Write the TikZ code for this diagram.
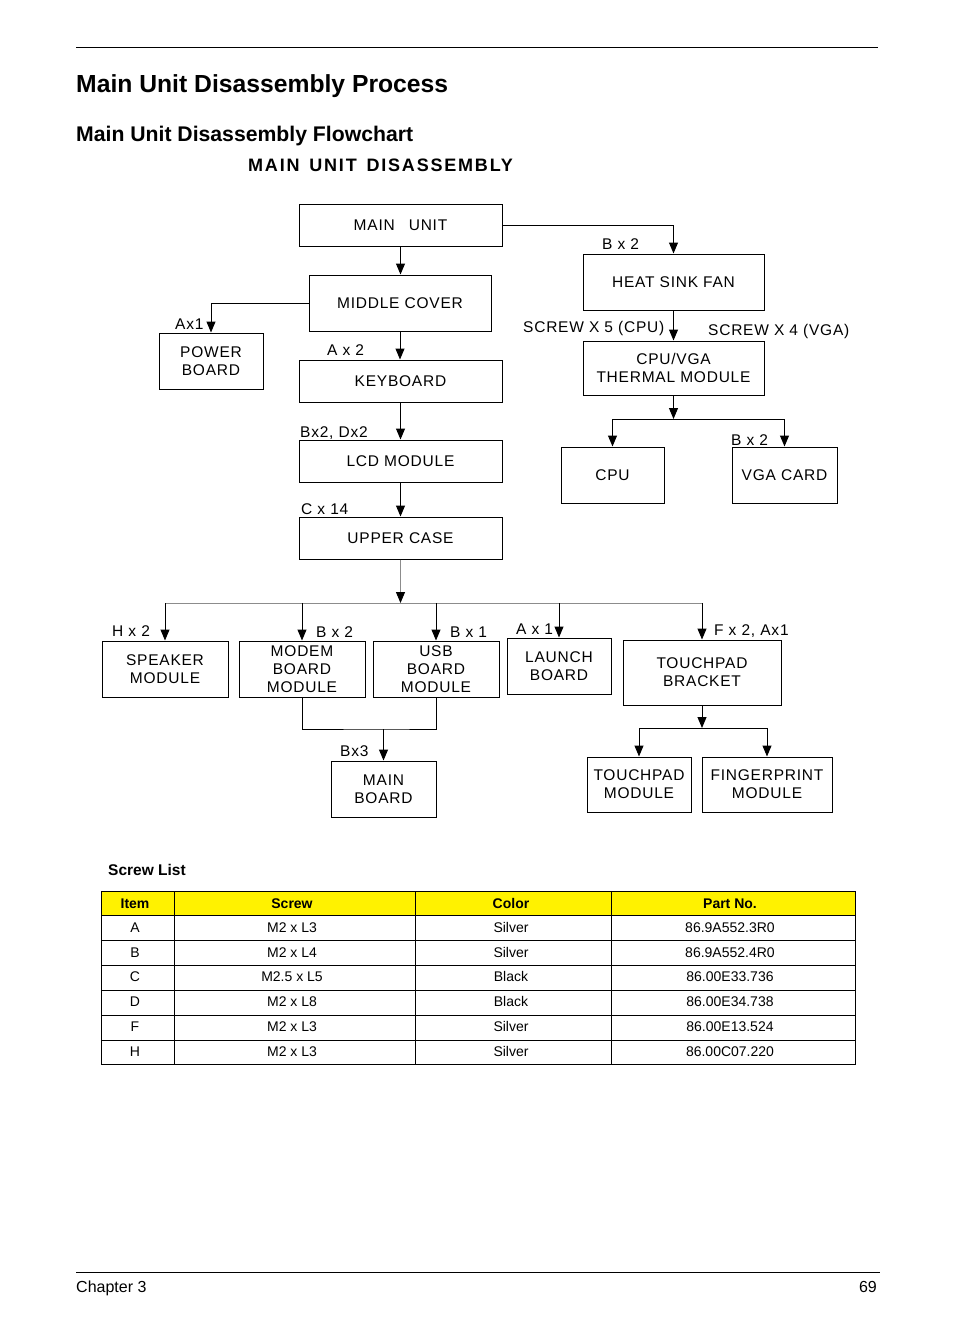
\documentclass[tikz,border=0pt]{standalone}
\usepackage{fontspec}
\setmainfont{Liberation Sans}
\newfontfamily\flow[LetterSpace=5]{Liberation Sans}
\newfontfamily\headsp[LetterSpace=10]{Liberation Sans}
\usetikzlibrary{arrows.meta}
\tikzset{
  box/.style={draw, line width=1pt, inner sep=0pt, align=center,
    font=\flow\fontsize{15.5}{18}\selectfont},
  lbl/.style={anchor=base west, inner sep=0pt, font=\flow\fontsize{15.5}{18}\selectfont},
  conn/.style={line width=1pt},
  arr/.style={conn, -{Triangle[length=11pt,width=9pt]}},
  busline/.style={line width=1pt, draw=black!45},
  cell/.style={inner sep=0pt, text height=10pt, text depth=3pt, font=\fontsize{14}{16}\selectfont},
  hcell/.style={cell, font=\bfseries\fontsize{14}{16}\selectfont},
  rule/.style={line width=0.9pt},
}
\begin{document}
\begin{tikzpicture}[x=1pt,y=-1pt]
\useasboundingbox (0,0) rectangle (954,1336);
% header
\draw[rule] (76,47) -- (878,47);
\node[anchor=base west, inner sep=0pt, font=\bfseries\fontsize{24.7}{28}\selectfont] (title) at (76,92) {Main Unit Disassembly Process};
\node[anchor=base west, inner sep=0pt, font=\bfseries\fontsize{21.2}{24}\selectfont] (subtitle) at (76,141) {Main Unit Disassembly Flowchart};
\node[anchor=base west, inner sep=0pt, font=\headsp\bfseries\fontsize{18}{20}\selectfont] (fctitle) at (248,171) {MAIN\hspace{3pt} UNIT\hspace{3pt} DISASSEMBLY};

% boxes
\node[box, minimum width=203pt, minimum height=42pt] (mainunit) at (400.5,225) {MAIN\hspace{14pt}UNIT};
\node[box, minimum width=182pt, minimum height=56pt] (middle) at (400,303) {MIDDLE COVER};
\node[box, minimum width=104pt, minimum height=56pt] (power) at (211,361) {POWER\\BOARD};
\node[box, minimum width=203pt, minimum height=42pt] (keyboard) at (400.5,381) {KEYBOARD};
\node[box, minimum width=203pt, minimum height=42pt] (lcd) at (400.5,461) {LCD MODULE};
\node[box, minimum width=203pt, minimum height=42pt] (upper) at (400.5,538) {UPPER CASE};
\node[box, minimum width=181pt, minimum height=56pt] (heatsink) at (673.5,282) {HEAT SINK FAN};
\node[box, minimum width=181pt, minimum height=54pt] (thermal) at (673.5,368) {CPU/VGA\\THERMAL MODULE};
\node[box, minimum width=103pt, minimum height=56pt] (cpu) at (612.5,475) {CPU};
\node[box, minimum width=105pt, minimum height=56pt] (vga) at (784.5,475) {VGA CARD};
\node[box, minimum width=126pt, minimum height=56pt] (speaker) at (165,669) {SPEAKER\\MODULE};
\node[box, minimum width=126pt, minimum height=56pt] (modem) at (302,669) {MODEM\\BOARD\\MODULE};
\node[box, minimum width=126pt, minimum height=56pt] (usb) at (436,669) {USB\\BOARD\\MODULE};
\node[box, minimum width=104pt, minimum height=56pt] (launch) at (559,666) {LAUNCH\\BOARD};
\node[box, minimum width=158pt, minimum height=65pt] (tpbracket) at (702,672.5) {TOUCHPAD\\BRACKET};
\node[box, minimum width=105pt, minimum height=56pt] (mainboard) at (383.5,789) {MAIN\\BOARD};
\node[box, minimum width=104pt, minimum height=55pt] (tpmodule) at (639,784.5) {TOUCHPAD\\MODULE};
\node[box, minimum width=130pt, minimum height=55pt] (finger) at (767,784.5) {FINGERPRINT\\MODULE};

% junction coordinates
\coordinate (bus) at (400.5,603);
\coordinate (busL) at (165,603);
\coordinate (busR) at (702,603);
\coordinate (join) at (383.5,729);
\coordinate (tsplit) at (673.5,419);
\coordinate (bsplit) at (702,728);

% connectors
\draw[arr] (mainunit.south) -- (mainunit.south |- middle.north);
\draw[arr] (mainunit.east) -| (heatsink.north);
\draw[arr] (middle.west) -| (power.north);
\draw[arr] (middle.south) -- (middle.south |- keyboard.north);
\draw[arr] (keyboard.south) -- (lcd.north);
\draw[arr] (lcd.south) -- (upper.north);
\draw[busline, -{Triangle[length=11pt,width=9pt,color=black]}] (upper.south) -- (bus);
\draw[busline] (busL) -- (busR);
\draw[arr] (speaker.north |- bus) -- (speaker.north);
\draw[arr] (modem.north |- bus) -- (modem.north);
\draw[arr] (usb.north |- bus) -- (usb.north);
\draw[arr] (launch.north |- bus) -- (launch.north);
\draw[arr] (tpbracket.north |- bus) -- (tpbracket.north);
\draw[conn] (modem.south) |- (join) -| (usb.south);
\draw[arr] (join) -- (mainboard.north);
\draw[arr] (heatsink.south) -- (thermal.north);
\draw[arr] (thermal.south) -- (tsplit);
\draw[arr] (tsplit) -| (cpu.north);
\draw[arr] (tsplit) -| (vga.north);
\draw[arr] (tpbracket.south) -- (bsplit);
\draw[arr] (bsplit) -| (tpmodule.north);
\draw[arr] (bsplit) -| (finger.north);

% labels
\node[lbl] (l1) at (602,249) {B x 2};
\node[lbl] (l2) at (175,329) {Ax1};
\node[lbl] (l3) at (327,355) {A x 2};
\node[lbl] (l4) at (523,332) {SCREW X 5 (CPU)};
\node[lbl] (l5) at (708,335) {SCREW X 4 (VGA)};
\node[lbl] (l6) at (300,437) {Bx2, Dx2};
\node[lbl] (l7) at (731,445) {B x 2};
\node[lbl] (l8) at (301,514) {C x 14};
\node[lbl] (l9) at (112,636) {H x 2};
\node[lbl] (l10) at (316,637) {B x 2};
\node[lbl] (l11) at (450,637) {B x 1};
\node[lbl] (l12) at (516,634) {A x 1};
\node[lbl] (l13) at (714,635) {F x 2, Ax1};
\node[lbl] (l14) at (340,756) {Bx3};

% screw list
\node[anchor=base west, inner sep=0pt, font=\bfseries\fontsize{15.5}{18}\selectfont] (screwlist) at (108,875) {Screw List};
\fill[yellow] (101,891) rectangle (855,915);
\foreach \yy in {915,940,965,990,1015,1040} \draw[rule] (101,\yy) -- (855,\yy);
\foreach \xx in {174,415,611} \draw[rule] (\xx,891) -- (\xx,1064);
\draw[rule] (101,891) rectangle (855,1064);
\node[hcell] (h1) at (135,904.5) {Item};
\node[hcell] (h2) at (292,904.5) {Screw};
\node[hcell] (h3) at (511,904.5) {Color};
\node[hcell] (h4) at (730,904.5) {Part No.};
\foreach \ia/\sb/\cc/\pd [count=\r] in {A/M2 x L3/Silver/86.9A552.3R0, B/M2 x L4/Silver/86.9A552.4R0, C/M2.5 x L5/Black/86.00E33.736, D/M2 x L8/Black/86.00E34.738, F/M2 x L3/Silver/86.00E13.524, H/M2 x L3/Silver/86.00C07.220}{
  \pgfmathsetmacro\yc{904.2+24.75*\r}
  \node[cell] (a\r) at (135,\yc) {\ia};
  \node[cell] (b\r) at (292,\yc) {\sb};
  \node[cell] (c\r) at (511,\yc) {\cc};
  \node[cell] (d\r) at (730,\yc) {\pd};
}

% footer
\draw[rule] (76,1272) -- (880,1272);
\node[anchor=base west, inner sep=0pt, font=\fontsize{16}{18}\selectfont] (chap) at (76,1292) {Chapter 3};
\node[anchor=base east, inner sep=0pt, font=\fontsize{16}{18}\selectfont] (page) at (877,1292) {69};
\end{tikzpicture}
\end{document}
